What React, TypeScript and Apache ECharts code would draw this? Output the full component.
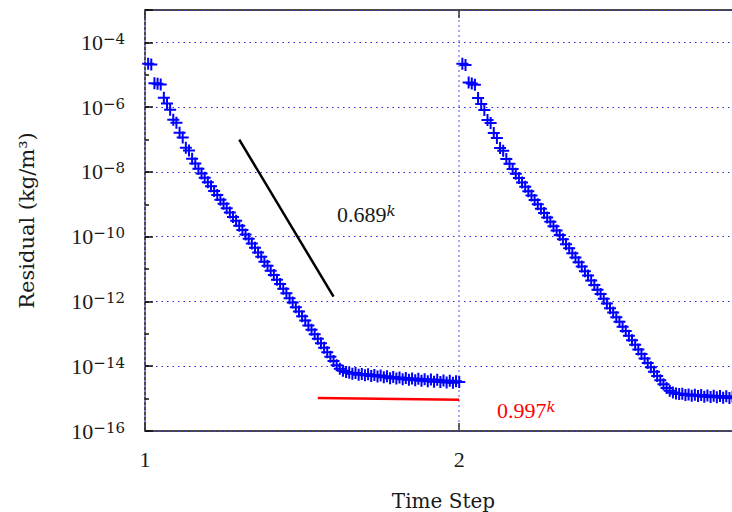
import React, { useEffect, useRef } from "react";
import * as echarts from "echarts";

// log10 of residual, iteration k = 1..100 of each time step
const step1Log10Residual = [
  -4.66, -4.68, -5.26, -5.28, -5.30, -5.71, -5.89, -6.08, -6.39, -6.48,
  -6.79, -6.94, -7.25, -7.34, -7.59, -7.74, -7.90, -8.05, -8.18, -8.32,
  -8.44, -8.59, -8.71, -8.86, -8.98, -9.12, -9.25, -9.39, -9.51, -9.66,
  -9.79, -9.93, -10.06, -10.21, -10.34, -10.49, -10.62, -10.77, -10.90, -11.05,
  -11.18, -11.33, -11.46, -11.61, -11.75, -11.90, -12.03, -12.18, -12.31, -12.46,
  -12.59, -12.74, -12.87, -13.01, -13.15, -13.29, -13.43, -13.57, -13.71, -13.84,
  -13.97, -14.08, -14.14, -14.18, -14.20, -14.23, -14.21, -14.26, -14.24, -14.28,
  -14.25, -14.30, -14.27, -14.32, -14.29, -14.34, -14.31, -14.37, -14.33, -14.38,
  -14.35, -14.40, -14.36, -14.42, -14.38, -14.43, -14.39, -14.45, -14.40, -14.46,
  -14.41, -14.48, -14.42, -14.49, -14.44, -14.50, -14.45, -14.51, -14.46, -14.49,
];

const step2Log10Residual = [
  -4.66, -4.70, -5.24, -5.27, -5.31, -5.72, -5.90, -6.09, -6.40, -6.49,
  -6.80, -6.95, -7.26, -7.35, -7.60, -7.75, -7.91, -8.06, -8.19, -8.33,
  -8.46, -8.60, -8.73, -8.87, -9.00, -9.14, -9.27, -9.41, -9.54, -9.68,
  -9.81, -9.95, -10.08, -10.23, -10.36, -10.51, -10.64, -10.79, -10.92, -11.07,
  -11.20, -11.35, -11.49, -11.64, -11.77, -11.92, -12.06, -12.21, -12.34, -12.49,
  -12.63, -12.78, -12.91, -13.06, -13.20, -13.34, -13.48, -13.62, -13.76, -13.90,
  -14.03, -14.17, -14.30, -14.43, -14.56, -14.67, -14.76, -14.81, -14.84, -14.86,
  -14.85, -14.89, -14.87, -14.91, -14.88, -14.92, -14.89, -14.94, -14.90, -14.95,
  -14.91, -14.96, -14.92, -14.97, -14.93, -14.98, -14.94, -14.99, -14.95, -15.00,
  -14.96, -15.00, -14.97, -15.01, -14.97, -15.02, -14.98, -15.02, -14.99, -15.03,
];

const iterationsPerStep = 100;

// reference convergence-rate lines [time, residual]
const rateLine0689 = [
  [1.3, 1.0e-7],
  [1.6, 1.4e-12],
];
const rateLine0997 = [
  [1.55, 1.05e-15],
  [2.0, 9.2e-16],
];

const xTickValues = [1, 2];

const serifWord = "DejaVu Serif";
const serifNum = "Liberation Serif";
const textColor = "#1a1a1a";
const gridBlue = "#2a2ad8";

function toPoints(step: number, logs: number[]) {
  return logs.map((e, i) => [step + (i + 1) / iterationsPerStep, Math.pow(10, e)]);
}

const plusSymbol = "path://M5,0H7V5H12V7H7V12H5V7H0V5H5Z";

export default function App() {
  const ref = useRef<HTMLDivElement>(null);
  useEffect(() => {
    if (!ref.current) return;
    const chart = echarts.init(ref.current, undefined, { renderer: "svg" });
    const expOf = (v: number) => Math.round(Math.log10(v));
    chart.setOption({
      animation: false,
      backgroundColor: "#fff",
      grid: {
        left: 145,
        top: 10,
        right: 18,
        bottom: 81,
        containLabel: false,
        outerBoundsMode: "none",
        show: true,
        borderColor: "#111",
        borderWidth: 1.5,
        backgroundColor: "transparent",
      },
      xAxis: [
        {
          type: "value",
          min: 1,
          max: 2.9,
          interval: 1,
          name: "Time Step",
          nameLocation: "middle",
          nameGap: 60,
          nameTextStyle: { fontFamily: serifWord, fontSize: 20, color: textColor },
          axisLine: { show: false },
          axisTick: { show: true, inside: true, length: 8, lineStyle: { color: "#333", width: 1.5 } },
          axisLabel: {
            margin: 17,
            fontFamily: serifNum,
            fontSize: 22,
            color: textColor,
            formatter: (v: number) => (xTickValues.includes(Math.round(v * 1000) / 1000) ? String(v) : ""),
          },
          splitLine: {
            show: true,
            lineStyle: { color: "#8c8cf0", type: [2, 3], width: 1.5 },
          },
        },
        {
          type: "value",
          position: "top",
          min: 1,
          max: 2.9,
          interval: 1,
          axisLine: { show: false },
          axisTick: { show: true, inside: true, length: 8, lineStyle: { color: "#333", width: 1.5 } },
          axisLabel: { show: false },
          splitLine: { show: false },
        },
      ],
      yAxis: [
        {
          type: "log",
          logBase: 10,
          min: 1e-16,
          max: 1e-3,
          interval: 2,
          name: "Residual (kg/m³)",
          nameLocation: "middle",
          nameGap: 108,
          nameTextStyle: { fontFamily: serifWord, fontSize: 21, color: textColor },
          axisLine: { show: false },
          axisTick: { show: true, inside: true, length: 8, lineStyle: { color: "#111", width: 1.5 } },
          axisLabel: {
            margin: 20,
            formatter: (v: number) => {
              const e = expOf(v);
              if (e % 2 !== 0 || e > -4) return "";
              return `{b|10}{s|−${-e}}`;
            },
            rich: {
              b: { fontFamily: serifNum, fontSize: 22, lineHeight: 22, color: textColor },
              s: { fontFamily: serifWord, fontSize: 15, lineHeight: 15, verticalAlign: "top", color: textColor },
            },
          },
          splitLine: {
            show: true,
            lineStyle: { color: gridBlue, type: [1.5, 4], width: 1.2 },
          },
        },
        {
          type: "log",
          logBase: 10,
          min: 1e-16,
          max: 1e-3,
          interval: 1,
          position: "left",
          axisLine: { show: false },
          axisTick: { show: true, inside: true, length: 4, lineStyle: { color: "#111", width: 1.5 } },
          axisLabel: { show: false },
          splitLine: { show: false },
        },
      ],
      series: [
        {
          type: "scatter",
          name: "step1",
          data: toPoints(1, step1Log10Residual),
          symbol: plusSymbol,
          symbolSize: 12,
          itemStyle: { color: "#0000ff", opacity: 1 },
          z: 3,
        },
        {
          type: "scatter",
          name: "step2",
          data: toPoints(2, step2Log10Residual),
          symbol: plusSymbol,
          symbolSize: 12,
          itemStyle: { color: "#0000ff", opacity: 1 },
          z: 3,
        },
        {
          type: "line",
          data: rateLine0689,
          symbol: "none",
          lineStyle: { color: "#000", width: 2.5 },
          z: 4,
        },
        {
          type: "line",
          data: rateLine0997,
          symbol: "none",
          lineStyle: { color: "#ff0000", width: 2.5 },
          z: 4,
        },
      ],
      graphic: [
        {
          type: "text",
          left: 337,
          top: 203,
          style: {
            text: "{a|0.689}{k|k}",
            rich: {
              a: { fontFamily: serifNum, fontSize: 22, lineHeight: 22, fill: textColor, color: textColor },
              k: { fontFamily: serifWord, fontSize: 15, fontStyle: "italic", lineHeight: 15, verticalAlign: "top", fill: textColor, color: textColor },
            },
          },
        },
        {
          type: "text",
          left: 497,
          top: 399,
          style: {
            text: "{a|0.997}{k|k}",
            rich: {
              a: { fontFamily: serifNum, fontSize: 22, lineHeight: 22, fill: "#ff0000", color: "#ff0000" },
              k: { fontFamily: serifWord, fontSize: 15, fontStyle: "italic", lineHeight: 15, verticalAlign: "top", fill: "#ff0000", color: "#ff0000" },
            },
          },
        },
      ],
    });
    return () => chart.dispose();
  }, []);
  return (
    <div style={{ position: "fixed", left: 0, top: 0, width: 732, height: 512, overflow: "hidden", background: "#fff" }}>
      <div ref={ref} style={{ width: 760, height: 512 }} />
    </div>
  );
}
